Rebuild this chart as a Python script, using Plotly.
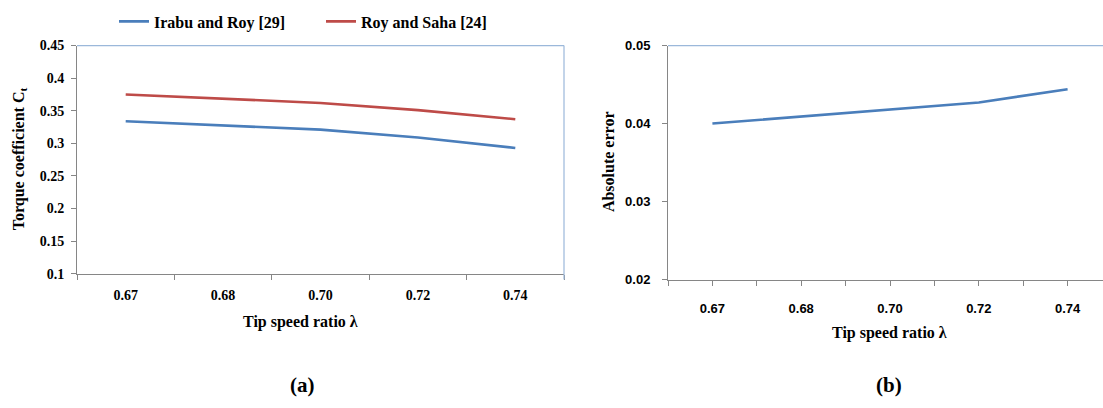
import plotly.graph_objects as go

# ---- data ----
categories = ["0.67", "0.68", "0.70", "0.72", "0.74"]
irabu_roy = [0.334, 0.327, 0.321, 0.309, 0.293]
roy_saha = [0.375, 0.368, 0.362, 0.351, 0.337]
abs_error = [0.0400, 0.0409, 0.0418, 0.0427, 0.0444]
left_yticks = [0.1, 0.15, 0.2, 0.25, 0.3, 0.35, 0.4, 0.45]
left_yticktext = ["0.1", "0.15", "0.2", "0.25", "0.3", "0.35", "0.4", "0.45"]
right_yticks = [0.02, 0.03, 0.04, 0.05]

W, H = 1103, 408
BLUE = "#4A7EBB"
RED = "#BE4B48"
GRAY = "#868686"
FRAME = "#9BB8DA"
SERIF = "Liberation Serif, Times New Roman, serif"
SANS = "Liberation Sans, Arial, sans-serif"

def px(x):
    return x / W

def py(y):
    return 1 - y / H

fig = go.Figure()
fig.add_trace(go.Scatter(x=categories, y=irabu_roy, mode="lines", name="Irabu and Roy [29]",
                         line=dict(color=BLUE, width=2.6), xaxis="x", yaxis="y"))
fig.add_trace(go.Scatter(x=categories, y=roy_saha, mode="lines", name="Roy and Saha [24]",
                         line=dict(color=RED, width=2.6), xaxis="x", yaxis="y"))

idx = list(range(len(categories)))
fig.add_trace(go.Scatter(x=idx, y=abs_error, mode="lines", showlegend=False,
                         line=dict(color=BLUE, width=2.6), xaxis="x2", yaxis="y2"))

# boundaries between categories on the right chart (minor ticks)
r_bounds = [i - 0.5 for i in range(len(categories) + 1)]
span_right = (W - 668) / 88.8

fig.update_layout(
    width=W, height=H,
    margin=dict(l=0, r=0, t=0, b=0),
    paper_bgcolor="white", plot_bgcolor="white",
    showlegend=True,
    legend=dict(orientation="h", x=px(114), y=py(15), xanchor="left", yanchor="middle",
                font=dict(family=SERIF, size=16, color="black", weight="bold"),
                itemwidth=30, entrywidth=162, entrywidthmode="pixels",
                bgcolor="rgba(0,0,0,0)"),
    xaxis=dict(domain=[px(77), px(564)], type="category", range=[-0.5, 4.5],
               tickson="boundaries", ticks="outside", ticklen=5, tickcolor=GRAY,
               showline=True, linecolor=GRAY, linewidth=1, showgrid=False, zeroline=False,
               tickfont=dict(family=SERIF, size=14, color="black", weight="bold"),
               ticklabelstandoff=8, anchor="y"),
    yaxis=dict(domain=[py(277), py(40)], range=[0.1, 0.45], tickmode="array",
               tickvals=left_yticks, ticktext=left_yticktext,
               ticks="outside", ticklen=5, tickcolor=GRAY,
               showline=True, linecolor=GRAY, linewidth=1, showgrid=False, zeroline=False,
               tickfont=dict(family=SERIF, size=14, color="black", weight="bold"),
               ticklabelstandoff=4, anchor="x"),
    xaxis2=dict(domain=[px(668), 1.0], range=[-0.5, -0.5 + span_right], tickmode="array",
                tickvals=idx, ticktext=categories,
                ticks="outside", ticklen=5, tickcolor=GRAY,
                minor=dict(tickmode="array", tickvals=r_bounds, ticks="outside", ticklen=5,
                           tickcolor=GRAY, showgrid=False),
                showline=True, linecolor=GRAY, linewidth=1, showgrid=False, zeroline=False,
                tickfont=dict(family=SANS, size=13, color="black", weight="bold"),
                ticklabelstandoff=12, anchor="y2"),
    yaxis2=dict(domain=[py(283), py(40)], range=[0.02, 0.05], tickmode="array",
                tickvals=right_yticks, ticktext=["%.2f" % v for v in right_yticks],
                ticks="outside", ticklen=5, tickcolor=GRAY,
                showline=True, linecolor=GRAY, linewidth=1, showgrid=False, zeroline=False,
                tickfont=dict(family=SANS, size=13, color="black", weight="bold"),
                ticklabelstandoff=9, anchor="x2"),
)

# plot-area frames (light blue top/right)
fig.add_shape(type="line", xref="paper", yref="paper", x0=px(77), x1=px(564), y0=py(40), y1=py(40),
              line=dict(color=FRAME, width=1.2))
fig.add_shape(type="line", xref="paper", yref="paper", x0=px(564), x1=px(564), y0=py(40), y1=py(283),
              line=dict(color=FRAME, width=1.2))
fig.add_shape(type="line", xref="paper", yref="paper", x0=px(668), x1=1.0, y0=py(40), y1=py(40),
              line=dict(color=FRAME, width=1.2))

def ann(text, x, y, size, angle=0, family=SERIF):
    fig.add_annotation(text=text, x=x, y=y, xref="paper", yref="paper", showarrow=False,
                       xanchor="center", yanchor="middle", textangle=angle,
                       font=dict(family=family, size=size, color="black", weight="bold"))

ann("Tip speed ratio λ", px(300), py(327), 16)
ann("Tip speed ratio λ", px(889), py(338), 16)
ann("Torque coefficient C<sub>t</sub>", px(19), py(158), 16, angle=-90)
ann("Absolute error", px(608), py(161), 16, angle=-90)
ann("(a)", px(302), py(392), 21)
ann("(b)", px(889), py(392), 21)

fig.write_html("out.html", config={"displayModeBar": False},
               post_script="document.body.style.margin='0';document.body.style.padding='0';")
